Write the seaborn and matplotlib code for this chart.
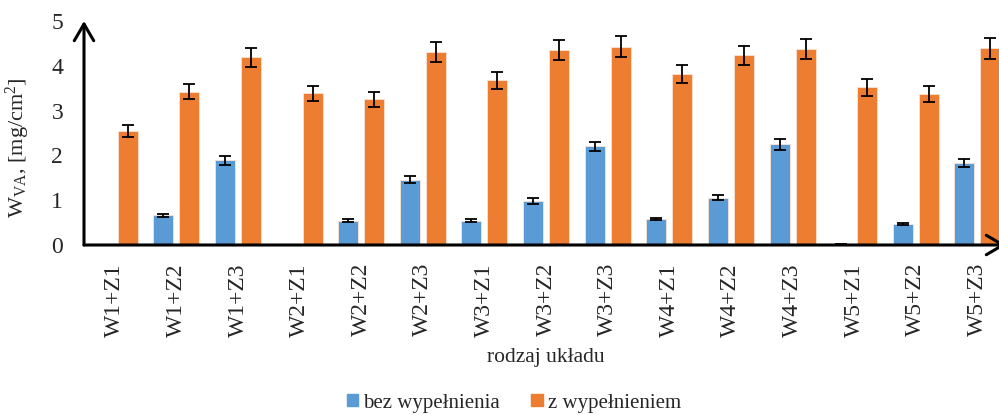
import numpy as np
import pandas as pd
import matplotlib
matplotlib.use("Agg")
import matplotlib.pyplot as plt
import seaborn as sns

# Configurations W1..W5 combined with Z1..Z3
categories = ["W1+Z1", "W1+Z2", "W1+Z3", "W2+Z1", "W2+Z2", "W2+Z3",
              "W3+Z1", "W3+Z2", "W3+Z3", "W4+Z1", "W4+Z2", "W4+Z3",
              "W5+Z1", "W5+Z2", "W5+Z3"]
series_names = ["bez wypełnienia", "z wypełnieniem"]

# Mean W_VA [mg/cm2] and standard deviation for each series (NaN = not measured)
bez_values = [np.nan, 0.66, 1.89, np.nan, 0.54, 1.46, 0.54, 0.98, 2.20,
              0.58, 1.06, 2.25, 0.02, 0.47, 1.83]
bez_errors = [np.nan, 0.03, 0.10, np.nan, 0.03, 0.08, 0.03, 0.06, 0.11,
              0.03, 0.06, 0.12, 0.01, 0.03, 0.10]
z_values = [2.55, 3.42, 4.19, 3.39, 3.25, 4.31, 3.68, 4.35, 4.43,
            3.82, 4.23, 4.38, 3.52, 3.37, 4.39]
z_errors = [0.13, 0.17, 0.21, 0.17, 0.17, 0.22, 0.19, 0.22, 0.23,
            0.20, 0.22, 0.22, 0.19, 0.17, 0.23]

palette = ["#5B9BD5", "#ED7D31"]

df = pd.DataFrame({
    "uklad": categories * 2,
    "seria": [series_names[0]] * len(categories) + [series_names[1]] * len(categories),
    "wva": list(bez_values) + list(z_values),
})
df["wva_plot"] = df["wva"].fillna(0.0)

sns.set_style("white")
plt.rcParams["font.family"] = ["Liberation Serif", "DejaVu Serif"]
plt.rcParams["mathtext.fontset"] = "custom"
plt.rcParams["mathtext.rm"] = "Liberation Serif"
plt.rcParams["mathtext.it"] = "Liberation Serif:italic"

fig = plt.figure(figsize=(9.99, 4.15), dpi=100)
W, H = 999, 415
ax = fig.add_axes([84 / W, (H - 245) / H, 922 / W, 224 / H])

sns.barplot(data=df, x="uklad", y="wva_plot", hue="seria", order=categories,
            hue_order=series_names, palette=palette, errorbar=None,
            width=0.844, gap=0.23, saturation=1, edgecolor="#fbe3d4",
            linewidth=0.6, legend=False, ax=ax)

# Standard-deviation whiskers on top of each bar
for cont, errs in zip(ax.containers, [bez_errors, z_errors]):
    xs = [p.get_x() + p.get_width() / 2 for p in cont.patches]
    ys = [p.get_height() for p in cont.patches]
    ax.errorbar(xs, ys, yerr=np.array(errs, dtype=float), fmt="none",
                ecolor="black", elinewidth=1.3, capsize=4.5, capthick=1.3,
                zorder=5)

ax.set_ylim(0, 5)
ax.set_xlim(-0.50, 14.465)
ax.set_yticks([0, 1, 2, 3, 4, 5])
ax.tick_params(axis="y", length=0, pad=15, labelsize=17)
ax.tick_params(axis="x", length=0, pad=13, labelsize=17, labelrotation=90)
for lbl in ax.get_xticklabels():
    lbl.set_verticalalignment("top")
for s in ax.spines.values():
    s.set_visible(False)

# Axes drawn as arrows
arrow_kw = dict(arrowstyle="->,head_length=0.6,head_width=0.35", lw=2.2,
                color="black", shrinkA=0, shrinkB=0, mutation_scale=20)
ax.annotate("", xy=(0, 1.0), xytext=(0, 0), xycoords="axes fraction",
            arrowprops=arrow_kw, annotation_clip=False)
ax.annotate("", xy=(1.0, 0), xytext=(0, 0), xycoords="axes fraction",
            arrowprops=arrow_kw, annotation_clip=False)

ax.set_ylabel(r"W$_{\mathrm{VA}}$, [mg/cm$^2$]", fontsize=16)
ax.yaxis.set_label_coords((32 - 84) / 922, (245 - 148) / 224)
ax.set_xlabel("rodzaj układu", fontsize=15.5)
ax.xaxis.set_label_coords((546 - 84) / 922, -(348 - 245) / 224)

handles = [plt.Rectangle((0, 0), 1, 1, color=c) for c in palette]
fig.legend(handles, series_names, loc="center", bbox_to_anchor=(514 / W, 1 - 403 / H),
           ncol=2, frameon=False, fontsize=15, handlelength=0.55, handleheight=0.55,
           handletextpad=0.25, columnspacing=1.5, borderaxespad=0)

fig.savefig("out.png", dpi=100)
